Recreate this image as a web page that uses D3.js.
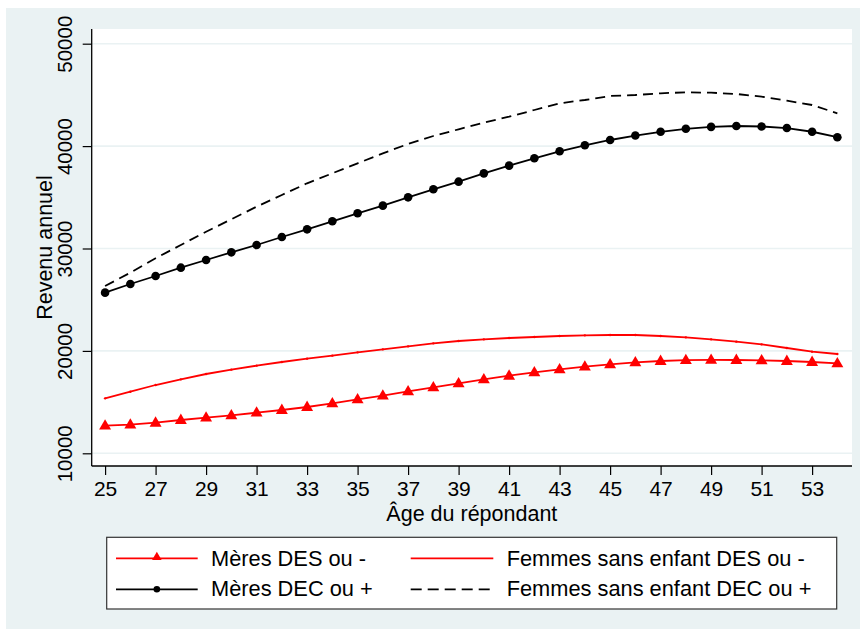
<!DOCTYPE html>
<html>
<head>
<meta charset="utf-8">
<script src="https://cdn.jsdelivr.net/npm/d3@7"></script>
<style>
  html, body { margin: 0; padding: 0; background: #ffffff; }
  svg { display: block; }
  text { font-family: "Liberation Sans", Arial, sans-serif; fill: #000; }
</style>
</head>
<body>
<svg id="chart" width="860" height="629"></svg>
<script>
// ---- Data ----
const ages = [25,26,27,28,29,30,31,32,33,34,35,36,37,38,39,40,41,42,43,44,45,46,47,48,49,50,51,52,53,54];
const meresDES = [12700,12796,12991,13252,13480,13707,13968,14228,14521,14879,15270,15628,16051,16442,16833,17224,17581,17907,18200,18460,18688,18884,19014,19100,19120,19110,19079,19014,18916,18786];
const femmesDES = [15368,16018,16670,17224,17744,18167,18558,18916,19241,19534,19860,20153,20446,20739,20967,21130,21260,21358,21455,21520,21553,21553,21455,21325,21130,20902,20642,20283,19925,19697];
const meresDEC = [25687,26533,27314,28128,28877,29626,30342,31123,31872,32654,33435,34186,34997,35781,36526,37340,38090,38806,39490,40076,40596,41030,41395,41690,41880,41963,41915,41760,41400,40870];
const femmesDEC = [26338,27637,29043,30342,31641,32852,34082,35225,36367,37344,38320,39297,40205,40986,41640,42285,42871,43525,44180,44502,44893,44990,45156,45254,45215,45088,44824,44434,44014,43203];
const xTicks = [25,27,29,31,33,35,37,39,41,43,45,47,49,51,53];
const yTicks = [10000,20000,30000,40000,50000];
const legendLabels = ["Mères DES ou -", "Femmes sans enfant DES ou -", "Mères DEC ou +", "Femmes sans enfant DEC ou +"];
const xTitle = "Âge du répondant";
const yTitle = "Revenu annuel";

// ---- Layout ----
const W = 860, H = 629;
const plot = { left: 91.7, right: 852, top: 29, bottom: 466 };
const bgColor = "#eaf2f3";
const red = "#ff0000";

const svg = d3.select("#chart");

// outer graph region
svg.append("rect").attr("x", 6).attr("y", 8).attr("width", W - 6).attr("height", H - 8).attr("fill", bgColor);
// plot region
svg.append("rect").attr("x", plot.left).attr("y", plot.top)
  .attr("width", plot.right - plot.left).attr("height", plot.bottom - plot.top).attr("fill", "#ffffff");

const x = d3.scaleLinear().domain([24.47, 54.58]).range([plot.left, plot.right]);
const y = d3.scaleLinear().domain([8760, 51435]).range([plot.bottom, plot.top]);

// gridlines
svg.append("g").selectAll("line").data(yTicks).join("line")
  .attr("x1", plot.left).attr("x2", plot.right)
  .attr("y1", d => y(d)).attr("y2", d => y(d))
  .attr("stroke", bgColor).attr("stroke-width", 1.6);

// axes
const xAxis = d3.axisBottom(x).tickValues(xTicks).tickSize(9).tickPadding(4).tickFormat(d3.format("d"));
const gx = svg.append("g").attr("transform", `translate(0,${plot.bottom})`).call(xAxis);
gx.select(".domain").attr("d", `M${plot.left},0H${plot.right}`).attr("stroke", "#000").attr("stroke-width", 1.3);
gx.selectAll(".tick line").attr("stroke", "#000").attr("stroke-width", 1.2);
gx.selectAll(".tick text").attr("font-size", 21).attr("font-family", "Liberation Sans, Arial, sans-serif")
  .attr("fill", "#000").attr("dy", null).attr("y", 29.5);

const yAxis = d3.axisLeft(y).tickValues(yTicks).tickSize(9).tickFormat(d3.format("d"));
const gy = svg.append("g").attr("transform", `translate(${plot.left},0)`).call(yAxis);
gy.select(".domain").attr("d", `M0,${plot.bottom}V${plot.top}`).attr("stroke", "#000").attr("stroke-width", 1.3);
gy.selectAll(".tick line").attr("stroke", "#000").attr("stroke-width", 1.2);
gy.selectAll(".tick text")
  .attr("font-size", 20.5).attr("font-family", "Liberation Sans, Arial, sans-serif").attr("fill", "#000")
  .attr("x", null).attr("dy", null)
  .attr("text-anchor", "middle")
  .attr("transform", "translate(-20,0) rotate(-90)");

// axis titles
svg.append("text").attr("x", (plot.left + plot.right) / 2).attr("y", 520.5)
  .attr("text-anchor", "middle").attr("font-size", 21.5).text(xTitle);
svg.append("text").attr("transform", `translate(51.5,${(plot.top + plot.bottom) / 2}) rotate(-90)`)
  .attr("text-anchor", "middle").attr("font-size", 21.5).text(yTitle);

// series
const line = d3.line().x((d, i) => x(ages[i])).y(d => y(d));
const gData = svg.append("g");

// Femmes sans enfant DES ou - (thin red line, tiny markers)
gData.append("path").datum(femmesDES).attr("d", line).attr("fill", "none")
  .attr("stroke", red).attr("stroke-width", 1.8);
gData.append("g").selectAll("circle").data(femmesDES).join("circle")
  .attr("cx", (d, i) => x(ages[i])).attr("cy", d => y(d)).attr("r", 1.2).attr("fill", red);

// Mères DES ou - (red line with triangles)
gData.append("path").datum(meresDES).attr("d", line).attr("fill", "none")
  .attr("stroke", red).attr("stroke-width", 1.8);
const tri = d3.symbol().type(d3.symbolTriangle).size(62);
gData.append("g").selectAll("path").data(meresDES).join("path")
  .attr("d", tri)
  .attr("transform", (d, i) => `translate(${x(ages[i])},${y(d) + 0.5})`)
  .attr("fill", red);

// Femmes sans enfant DEC ou + (black dashed)
gData.append("path").datum(femmesDEC).attr("d", line).attr("fill", "none")
  .attr("stroke", "#000").attr("stroke-width", 1.8).attr("stroke-dasharray", "10,6");

// Mères DEC ou + (black line with dots)
gData.append("path").datum(meresDEC).attr("d", line).attr("fill", "none")
  .attr("stroke", "#000").attr("stroke-width", 1.8);
gData.append("g").selectAll("circle").data(meresDEC).join("circle")
  .attr("cx", (d, i) => x(ages[i])).attr("cy", d => y(d)).attr("r", 4.3).attr("fill", "#000");

// ---- Legend ----
const lg = svg.append("g");
lg.append("rect").attr("x", 106.7).attr("y", 537.3).attr("width", 836.7 - 106.7).attr("height", 609 - 537.3)
  .attr("fill", "#ffffff").attr("stroke", "#333").attr("stroke-width", 1.2);

const legendItems = [
  { col: 0, row: 0, color: red, dash: null, marker: "tri" },
  { col: 1, row: 0, color: red, dash: null, marker: null },
  { col: 0, row: 1, color: "#000", dash: null, marker: "dot" },
  { col: 1, row: 1, color: "#000", dash: "11,6", marker: null }
];
const colLine = [[116, 197.7], [410.7, 493.3]];
const colText = [211, 506.7];
const rowLineY = [558.3, 589.3];
const rowTextY = [566, 596];

legendItems.forEach((it, k) => {
  const [x1, x2] = colLine[it.col];
  const ly = rowLineY[it.row];
  lg.append("line").attr("x1", x1).attr("x2", x2).attr("y1", ly).attr("y2", ly)
    .attr("stroke", it.color).attr("stroke-width", 1.8)
    .attr("stroke-dasharray", it.dash);
  const mx = (x1 + x2) / 2;
  if (it.marker === "tri") {
    lg.append("path").attr("d", d3.symbol().type(d3.symbolTriangle).size(40)())
      .attr("transform", `translate(${mx},${ly - 1})`).attr("fill", it.color);
  } else if (it.marker === "dot") {
    lg.append("circle").attr("cx", mx).attr("cy", ly).attr("r", 3.3).attr("fill", it.color);
  }
  lg.append("text").attr("x", colText[it.col]).attr("y", rowTextY[it.row])
    .attr("font-size", 21.8).text(legendLabels[k]);
});
</script>
</body>
</html>
